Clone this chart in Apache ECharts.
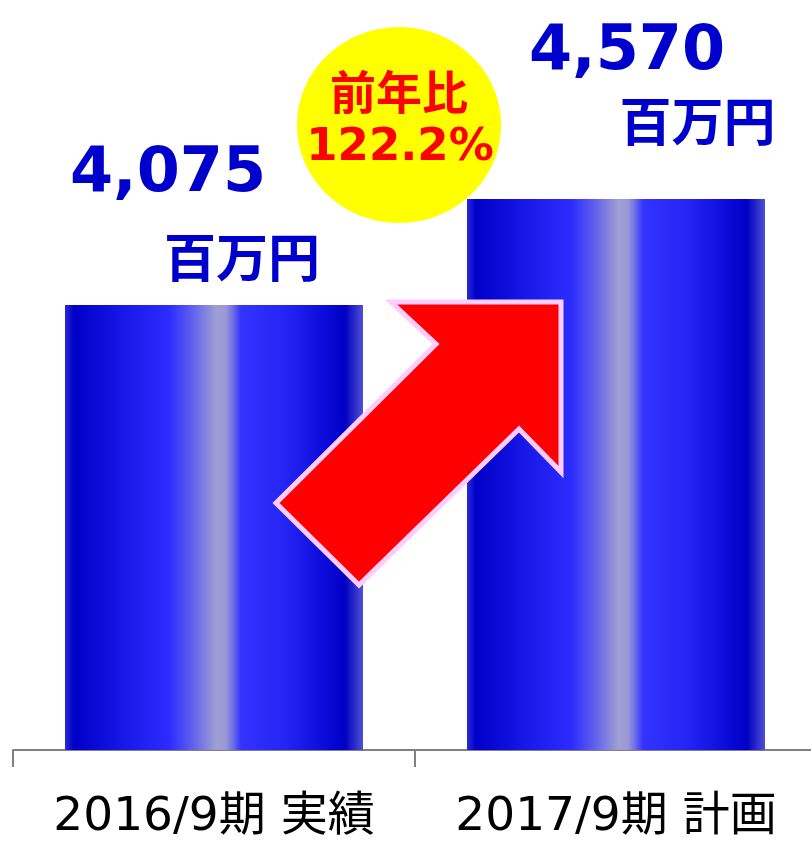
<!DOCTYPE html>
<html>
<head>
<meta charset="utf-8">
<script src="https://cdn.jsdelivr.net/npm/echarts@6/dist/echarts.min.js"></script>
<style>
  html, body { margin: 0; padding: 0; background: #fff; }
  #myChart { width: 811px; height: 841px; }
</style>
</head>
<body>
<div id="myChart"></div>
<script>
// data
const categories = ["2016/9期 実績", "2017/9期 計画"];
const sales = [4075, 4570];
const unit = "百万円";
const yoyTitle = "前年比";
const yoyValue = "122.2%";

// label placement per bar (px, relative to bar top / centre)
const labelLayout = [
  { valuePadL: 0, valuePadR: 92, unitPadL: 56, valueLine: 105, lift: 17.5 },
  { valuePadL: 22, valuePadR: 0, unitPadL: 163, valueLine: 76, lift: 48 },
];

const blue = "#0000cc";
const latin = "'DejaVu Sans', 'Noto Sans CJK JP', sans-serif";
const cjk = "'Noto Sans CJK JP', sans-serif";

let myChart = echarts.init(document.getElementById("myChart"));

// bar face: dark edges, bright blue body, pale highlight in the middle
const barGradient = new echarts.graphic.LinearGradient(0, 0, 1, 0, [
  { offset: 0, color: "#2a2ad8" },
  { offset: 0.03, color: "#0000c8" },
  { offset: 0.2, color: "#1818e8" },
  { offset: 0.35, color: "#2c2cff" },
  { offset: 0.42, color: "#5a5af0" },
  { offset: 0.51, color: "#a0a0d4" },
  { offset: 0.54, color: "#9898d8" },
  { offset: 0.56, color: "#7676e4" },
  { offset: 0.59, color: "#3434ff" },
  { offset: 0.74, color: "#2424f4" },
  { offset: 0.88, color: "#0a0ad8" },
  { offset: 0.94, color: "#0000c4" },
  { offset: 1, color: "#5050d4" },
]);

const barData = sales.map(function (v, i) {
  const l = labelLayout[i];
  return {
    value: v,
    label: {
      show: true,
      position: "top",
      distance: l.lift,
      formatter: "{v|" + v.toLocaleString("en-US") + "}\n{u|" + unit + "}",
      rich: {
        v: {
          fontFamily: latin,
          fontWeight: "bold",
          fontSize: 62,
          color: blue,
          lineHeight: l.valueLine,
          padding: [0, l.valuePadR, 0, l.valuePadL],
        },
        u: {
          fontFamily: cjk,
          fontWeight: "bold",
          fontSize: 52,
          color: blue,
          lineHeight: 60,
          padding: [0, 0, 0, l.unitPadL],
        },
      },
    },
  };
});

let option = {
  animation: false,
  backgroundColor: "#ffffff",
  grid: {
    left: 13,
    top: 21,
    width: 804,
    bottom: 91,
    outerBoundsMode: "none",
  },
  xAxis: {
    type: "category",
    data: categories,
    axisLine: {
      lineStyle: { color: "#808080", width: 2 },
    },
    axisTick: {
      show: true,
      length: 17,
      lineStyle: { color: "#808080", width: 2 },
    },
    axisLabel: {
      interval: 0,
      hideOverlap: false,
      margin: 44,
      color: "#000000",
      fontSize: 47,
      fontFamily: latin,
    },
  },
  yAxis: {
    type: "value",
    show: false,
    min: 2000,
    max: 5400,
    splitLine: { show: false },
  },
  series: [
    {
      type: "bar",
      barWidth: 298,
      itemStyle: { color: barGradient },
      data: barData,
      z: 2,
    },
  ],
  graphic: [
    // yellow badge, sits behind the bars
    {
      type: "ellipse",
      z: 0,
      shape: { cx: 399, cy: 125, rx: 102, ry: 98 },
      style: { fill: "#ffff00" },
    },
    {
      type: "text",
      z: 1,
      x: 399,
      y: 92,
      style: {
        text: yoyTitle,
        fill: "#ff0000",
        font: "bold 46px " + cjk,
        align: "center",
        verticalAlign: "middle",
      },
    },
    {
      type: "text",
      z: 1,
      x: 400,
      y: 148,
      style: {
        text: yoyValue,
        fill: "#ff0000",
        font: "bold 45px " + latin,
        align: "center",
        verticalAlign: "middle",
      },
    },
    // big red arrow over the bars
    {
      type: "polygon",
      z: 100,
      shape: {
        points: [
          [391, 302], [561, 302], [561, 472], [519, 429],
          [359, 585], [276, 503], [436, 344],
        ],
      },
      style: { fill: "#ff0000", stroke: "#ffccff", lineWidth: 5, lineJoin: "miter" },
    },
  ],
};

myChart.setOption(option);
</script>
</body>
</html>
